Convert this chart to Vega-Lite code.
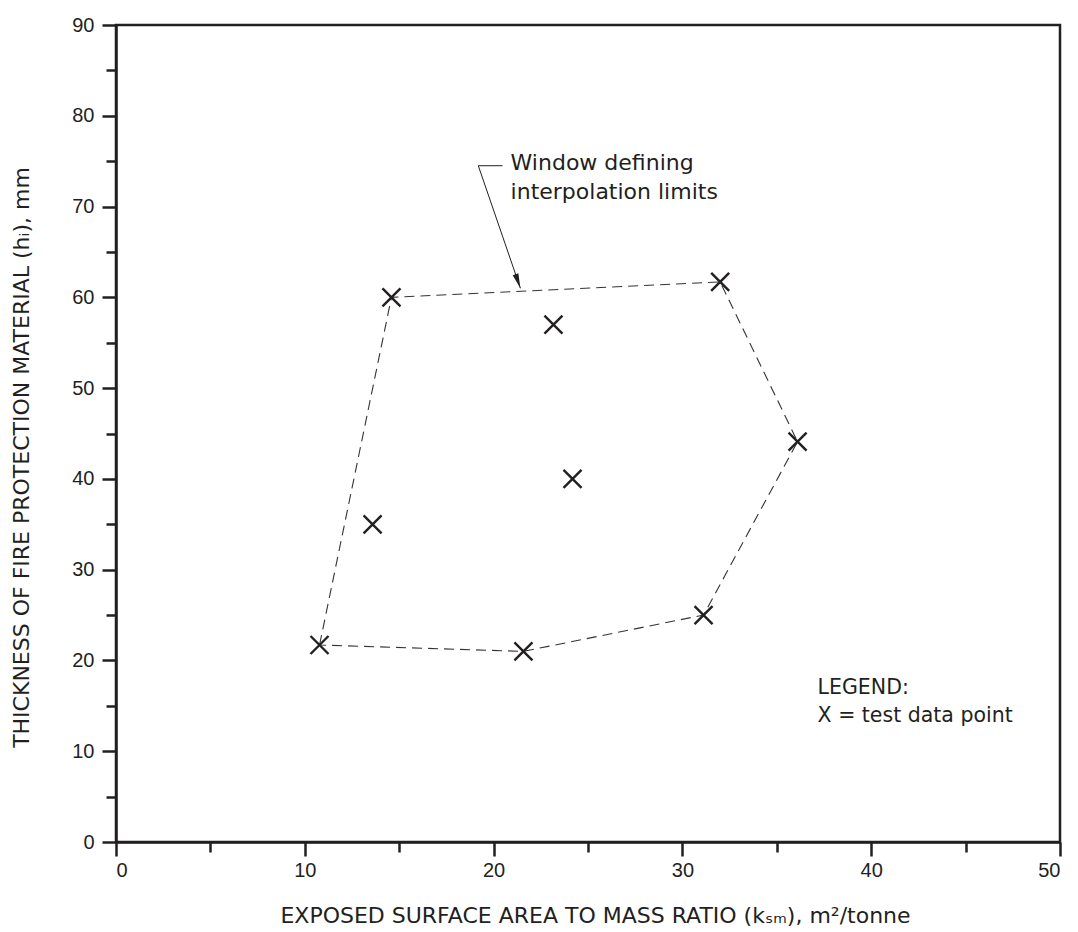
{
  "$schema": "https://vega.github.io/schema/vega-lite/v6.json",
  "width": 944,
  "height": 817,
  "autosize": {"type": "none"},
  "padding": {"left": 116, "top": 25, "right": 18, "bottom": 90},
  "background": "white",
  "config": {
    "view": {"stroke": "#231f20", "strokeWidth": 2.5},
    "axis": {
      "grid": false,
      "domainColor": "#231f20",
      "domainWidth": 2.5,
      "tickColor": "#231f20",
      "tickWidth": 2.5,
      "labelFont": "Liberation Sans",
      "labelFontSize": 20,
      "labelColor": "#231f20",
      "titleFont": "DejaVu Sans",
      "titleFontSize": 22,
      "titleFontWeight": "normal",
      "titleColor": "#231f20"
    }
  },
  "datasets": {
    "pts": [
      {"x": 10.78, "y": 21.7},
      {"x": 14.59, "y": 60.0},
      {"x": 13.59, "y": 35.0},
      {"x": 21.58, "y": 21.0},
      {"x": 23.17, "y": 57.0},
      {"x": 24.18, "y": 40.0},
      {"x": 31.12, "y": 25.0},
      {"x": 32.0, "y": 61.7},
      {"x": 36.1, "y": 44.1}
    ],
    "win": [
      {"i": 0, "x": 10.78, "y": 21.7},
      {"i": 1, "x": 14.59, "y": 60.0},
      {"i": 2, "x": 32.0, "y": 61.7},
      {"i": 3, "x": 36.1, "y": 44.1},
      {"i": 4, "x": 31.12, "y": 25.0},
      {"i": 5, "x": 21.58, "y": 21.0},
      {"i": 6, "x": 10.78, "y": 21.7}
    ],
    "leader": [
      {"i": 0, "x": 20.47, "y": 74.5},
      {"i": 1, "x": 19.19, "y": 74.5},
      {"i": 2, "x": 21.42, "y": 61.0}
    ],
    "arrowhead": [
      {"x": 21.29, "y": 61.77}
    ],
    "notes": [
      {"x": 20.9, "y": 74.8, "label": "Window defining", "g": "a"},
      {"x": 20.9, "y": 71.6, "label": "interpolation limits", "g": "a"},
      {"x": 37.16, "y": 16.96, "label": "LEGEND:", "g": "b"},
      {"x": 37.16, "y": 13.88, "label": "X = test data point", "g": "b"}
    ]
  },
  "layer": [
    {
      "data": {"name": "win"},
      "mark": {"type": "line", "strokeDash": [10, 6], "strokeWidth": 1.1, "color": "#333333"},
      "encoding": {
        "x": {
          "field": "x", "type": "quantitative",
          "scale": {"domain": [0, 50], "nice": false, "zero": false},
          "axis": {
            "orient": "bottom",
            "values": [0, 10, 20, 30, 40, 50],
            "format": "d",
            "tickSize": 14,
            "labelPadding": 4,
            "title": "EXPOSED SURFACE AREA TO MASS RATIO (kₛₘ), m²/tonne",
            "titlePadding": 25,
            "titleX": 479
          }
        },
        "y": {
          "field": "y", "type": "quantitative",
          "scale": {"domain": [0, 90], "nice": false, "zero": false},
          "axis": {
            "orient": "left",
            "values": [0, 10, 20, 30, 40, 50, 60, 70, 80, 90],
            "format": "d",
            "tickSize": 14,
            "labelPadding": 8,
            "title": "THICKNESS OF FIRE PROTECTION MATERIAL (hᵢ), mm",
            "titlePadding": 38,
            "titleY": 432
          }
        },
        "order": {"field": "i", "type": "quantitative"}
      }
    },
    {
      "data": {"name": "pts"},
      "mark": {"type": "point", "shape": "M-1,-1L1,1M-1,1L1,-1", "filled": false, "size": 324, "strokeWidth": 2.4, "color": "#231f20", "opacity": 1},
      "encoding": {
        "x": {
          "field": "x", "type": "quantitative",
          "axis": {"orient": "bottom", "values": [5, 15, 25, 35, 45], "tickSize": 10, "labels": false, "domain": false, "title": null}
        },
        "y": {
          "field": "y", "type": "quantitative",
          "axis": {"orient": "left", "values": [5, 15, 25, 35, 45, 55, 65, 75, 85], "tickSize": 10, "labels": false, "domain": false, "title": null}
        }
      }
    },
    {
      "data": {"name": "leader"},
      "mark": {"type": "line", "strokeWidth": 1, "color": "#231f20"},
      "encoding": {
        "x": {"field": "x", "type": "quantitative", "axis": null},
        "y": {"field": "y", "type": "quantitative", "axis": null},
        "order": {"field": "i", "type": "quantitative"}
      }
    },
    {
      "data": {"name": "arrowhead"},
      "mark": {"type": "point", "shape": "M0,1L-0.4,-1L0.4,-1Z", "filled": true, "size": 225, "angle": 341, "color": "#231f20", "opacity": 1, "strokeWidth": 0},
      "encoding": {
        "x": {"field": "x", "type": "quantitative", "axis": null},
        "y": {"field": "y", "type": "quantitative", "axis": null}
      }
    },
    {
      "data": {"name": "notes"},
      "transform": [{"filter": "datum.g === 'a'"}],
      "mark": {"type": "text", "align": "left", "baseline": "middle", "font": "DejaVu Sans", "fontSize": 22, "color": "#231f20"},
      "encoding": {
        "x": {"field": "x", "type": "quantitative", "axis": null},
        "y": {"field": "y", "type": "quantitative", "axis": null},
        "text": {"field": "label"}
      }
    },
    {
      "data": {"name": "notes"},
      "transform": [{"filter": "datum.g === 'b'"}],
      "mark": {"type": "text", "align": "left", "baseline": "middle", "font": "DejaVu Sans", "fontSize": 20.5, "color": "#231f20"},
      "encoding": {
        "x": {"field": "x", "type": "quantitative", "axis": null},
        "y": {"field": "y", "type": "quantitative", "axis": null},
        "text": {"field": "label"}
      }
    }
  ],
  "resolve": {"axis": {"x": "independent", "y": "independent"}}
}
